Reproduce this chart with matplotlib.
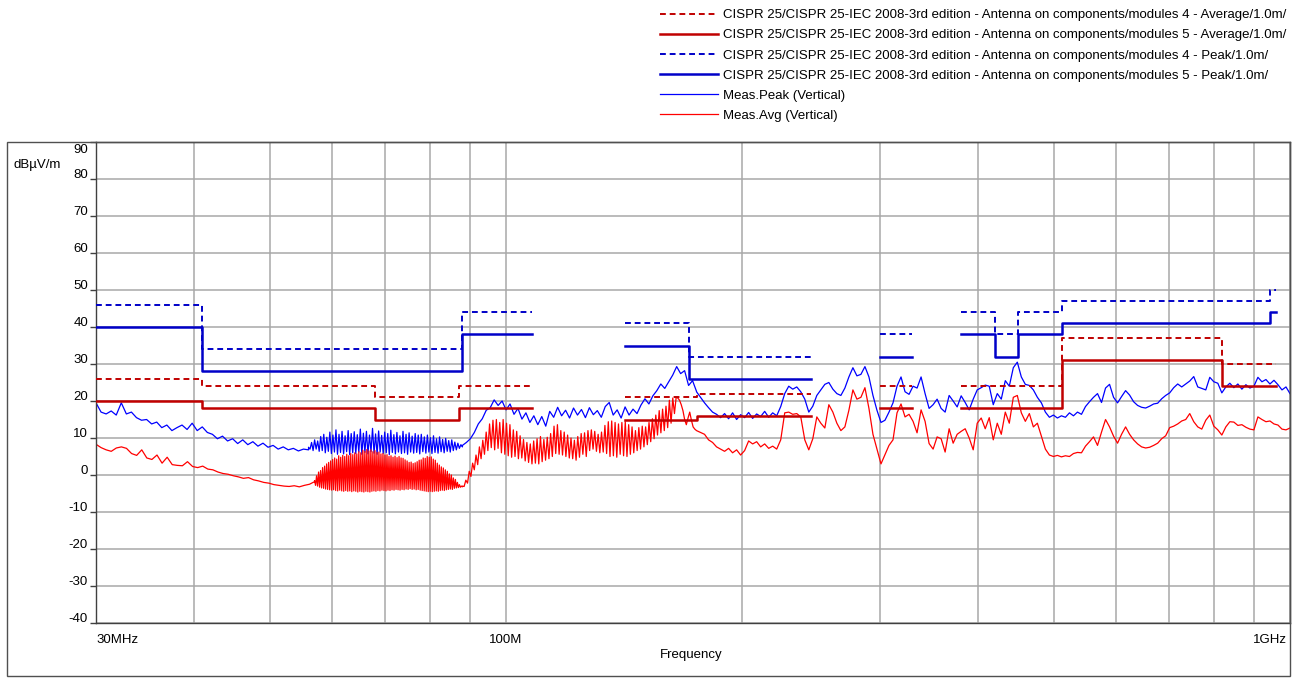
import numpy as np
import matplotlib
matplotlib.use('Agg')
import matplotlib.pyplot as plt
from matplotlib import transforms
from matplotlib.patches import Rectangle
from matplotlib.ticker import FixedLocator

plt.rcParams['font.family'] = ['Liberation Sans', 'DejaVu Sans']

# CISPR 25 limit bands: (start MHz, stop MHz, level dBuV/m)
avg4_bands = [(30, 41, 26), (41, 68, 24), (68, 87, 21), (87, 108, 24),
              (142, 175, 21), (175, 245, 22), (300, 330, 24),
              (380, 512, 24), (512, 820, 37), (820, 960, 30)]
avg5_bands = [(30, 41, 20), (41, 68, 18), (68, 87, 15), (87, 108, 18),
              (142, 175, 15), (175, 245, 16), (300, 330, 18),
              (380, 512, 18), (512, 820, 31), (820, 960, 24)]
peak4_bands = [(30, 41, 46), (41, 88, 34), (88, 108, 44), (142, 171, 41),
               (171, 245, 32), (300, 330, 38), (380, 420, 44), (420, 450, 38),
               (450, 512, 44), (512, 944, 47), (944, 960, 50)]
peak5_bands = [(30, 41, 40), (41, 88, 28), (88, 108, 38), (142, 171, 35),
               (171, 245, 26), (300, 330, 32), (380, 420, 38), (420, 450, 32),
               (450, 512, 38), (512, 944, 41), (944, 960, 44)]

# measured peak trace, swept in four sub-ranges (MHz edges)
peak_edges = [30, 56, 88, 175, 1000]
peak_seg1 = [19.5, 17, 16.5, 17.3, 16.2, 19.5, 16.5, 17, 15.5, 14.8, 15, 13.8,
             14.3, 12.8, 13.5, 12, 12.8, 13.5, 12.3, 14, 12, 13, 11.5, 11,
             9.8, 10.5, 9.2, 9.8, 8.5, 9.5, 8.2, 9, 7.8, 8.6, 7.5, 8, 7, 7.6,
             6.8, 7.2, 6.5, 7, 6.8]
peak_seg2 = [7.5, 7.0, 8.8, 6.6, 9.5, 7.0, 9.2, 6.4, 10.4, 6.6, 11.0, 6.0,
             10.2, 6.4, 11.6, 5.8, 10.8, 6.2, 12.2, 5.6, 11.0, 6.1, 11.8, 5.7,
             10.6, 6.3, 12.0, 5.5, 11.2, 6.0, 11.7, 5.8, 10.9, 6.2, 12.4, 5.6,
             11.3, 6.1, 11.8, 5.7, 10.8, 6.3, 12.6, 5.9, 11.1, 5.6, 11.9, 6.2,
             10.7, 5.8, 11.6, 6.0, 11.2, 5.5, 12.1, 6.1, 10.9, 5.7, 11.5, 6.2,
             10.6, 5.8, 11.8, 6.0, 11.0, 5.6, 11.4, 6.2, 10.5, 5.9, 11.2, 6.1,
             10.8, 5.7, 11.0, 6.3, 10.3, 5.9, 10.8, 6.2, 10.1, 5.8, 10.6, 6.1,
             9.8, 5.9, 10.3, 6.3, 9.6, 6.0, 9.9, 6.4, 9.3, 6.2, 9.5, 6.6,
             8.9, 6.8, 8.6, 7.2, 8.2, 7.6]
peak_seg3 = [8.0, 8.8, 9.8, 11.5, 13.8, 15.2, 17.5, 18.2, 20.3, 18.8, 20,
             17.6, 19.2, 16.4, 18, 15.1, 16.8, 14.2, 16, 13.6, 15.8, 13.2,
             17.2, 15.6, 18.3, 16, 17.5, 15.4, 18.1, 16.2, 17.7, 15.5, 18.2,
             16.3, 17.4, 15.6, 18.5, 19.6, 16.2, 17.6, 15.4, 18.4, 16.2, 17.8,
             16.6, 18.9, 20.6, 19.2, 21.4, 22.8, 24.6, 23.4, 25.2, 27, 29.3,
             27.4, 28.2, 24.2, 25.5, 22.6]
peak_seg4 = [22.5, 21, 19.5, 18.2, 17, 16.4, 15.5, 16.6, 15.2, 16.8, 15, 16.3,
             15.5, 16.9, 15.3, 16.5, 15.8, 17.2, 15.6, 16.8, 16, 18.5, 22, 24,
             23.2, 23.8, 22.5, 20.5, 17, 18.6, 21.5, 23, 24.5, 25, 23.2, 22,
             21.5, 23.5, 26.5, 29, 26.8, 27.2, 29.3, 26.5, 21.5, 17.5, 14.2,
             14.8, 17, 19.5, 24, 26.5, 22.5, 21.8, 24, 23.5, 26.5, 22, 18, 19,
             20.5, 18, 17, 21.5, 20, 18.4, 21.4, 19.6, 17.6, 20.5, 23, 23.6,
             24.3, 24, 19, 22, 20.5, 25.5, 24, 29, 30.5, 26.5, 24.5, 24.2, 23,
             21, 19.5, 17, 15.6, 16.2, 15.4, 16, 15.6, 16.8, 16, 17, 16.4, 18.5,
             19.8, 21, 22, 19.6, 23.5, 24.5, 21, 19.5, 21.2, 22.8, 21.6, 19.8,
             18.8, 18.3, 18.1, 18.6, 19.2, 19.4, 20.6, 21.5, 22.2, 23.6, 24.6,
             23.8, 24.6, 25.4, 26.6, 23.8, 23.4, 23, 26.4, 25.2, 24.8, 22.2,
             23.8, 24.8, 23.6, 24.6, 23.2, 24.4, 23.5, 24, 26.4, 25.2, 25.8,
             24.6, 25.6, 24.4, 23, 23.8, 22]

# measured average trace
avg_edges = [30, 57, 88, 175, 1000]
avg_seg1 = [8.3, 7.4, 6.8, 6.4, 7.3, 7.6, 7.2, 5.8, 5.3, 6.8, 4.6, 4.2, 5.4,
            3.2, 4.8, 2.8, 2.6, 2.5, 3.6, 2.3, 2.0, 2.4, 1.6, 1.4, 0.8, 0.4,
            0.2, -0.2, -0.5, -0.9, -0.7, -1.3, -1.6, -2.0, -2.2, -2.6, -2.8,
            -3.0, -3.1, -2.9, -3.2, -2.8, -2.5, -1.8]
avg_seg2 = [-1.5, -2.8, -0.2, -3.0, 0.8, -3.3, 1.2, -3.5, 2.0, -3.6, 2.4, -3.8,
            3.0, -3.9, 3.4, -4.0, 3.8, -4.1, 4.2, -4.0, 4.6, -4.2, 4.3, -4.3,
            5.2, -4.1, 4.8, -4.3, 5.3, -4.4, 5.0, -4.2, 5.6, -4.4, 5.2, -4.3,
            5.8, -4.5, 5.5, -4.3, 6.0, -4.4, 5.7, -4.6, 6.3, -4.4, 6.0, -4.5,
            6.7, -4.6, 6.4, -4.4, 6.9, -4.5, 6.5, -4.6, 6.8, -4.4, 6.3, -4.3,
            6.6, -4.4, 6.1, -4.2, 6.2, -4.3, 5.7, -4.1, 5.8, -4.2, 5.4, -4.3,
            5.5, -4.1, 5.0, -4.2, 5.2, -4.0, 4.8, -4.1, 5.1, -3.9, 4.7, -4.0,
            5.0, -4.1, 4.6, -3.9, 4.5, -4.0, 4.1, -3.8, 3.8, -3.9, 3.4, -3.7,
            3.5, -3.9, 3.1, -3.8, 3.3, -4.0, 3.6, -3.9, 4.0, -4.1, 4.1, -4.2,
            4.6, -4.3, 4.5, -4.4, 5.0, -4.5, 4.8, -4.4, 4.9, -4.5, 4.3, -4.4,
            4.0, -4.3, 3.2, -4.4, 2.7, -4.2, 2.2, -4.1, 1.9, -4.2, 1.4, -4.0,
            1.0, -3.9, 0.3, -3.8, 0.0, -3.9, -0.8, -3.6, -1.2, -3.5, -2.0, -3.4,
            -2.6, -3.3, -3.0, -3.2]
avg_seg3 = [-3.0, -3.1, -1.4, -2.2, 1.0, -0.4, 3.2, 1.4, 5.4, 2.8, 7.6, 4.4,
            9.4, 5.6, 11.6, 6.6, 13.8, 7.4, 14.8, 6.8, 15.0, 7.2, 14.2, 6.0,
            15.0, 5.6, 14.0, 5.2, 13.6, 4.8, 12.2, 5.0, 11.8, 4.4, 10.6, 4.6,
            9.6, 3.8, 8.8, 3.4, 8.4, 3.0, 9.2, 3.2, 9.8, 3.0, 10.4, 3.6,
            9.6, 4.0, 10.2, 4.4, 11.2, 5.0, 13.2, 5.8, 13.6, 5.6, 12.0, 5.4,
            11.6, 5.0, 10.8, 4.6, 10.0, 4.4, 9.4, 4.0, 10.4, 4.8, 11.2, 5.6,
            11.4, 5.0, 12.0, 6.6, 12.2, 7.0, 11.8, 6.4, 11.0, 6.0, 11.6, 6.2,
            13.4, 5.8, 14.4, 5.0, 14.6, 5.2, 14.2, 4.8, 13.8, 5.6, 14.2, 5.2,
            14.4, 5.0, 13.6, 5.6, 13.0, 6.0, 12.0, 6.6, 12.8, 7.0, 13.2, 7.6,
            13.0, 8.2, 14.2, 9.0, 15.2, 9.8, 16.2, 10.8, 17.4, 11.4, 17.8, 12.0,
            18.6, 12.8, 20.2, 14.0, 20.8, 16.6,
            21.0, 20.8, 20.2, 19.0, 17.4, 15.0, 13.6, 15.4, 17.0, 14.8, 13.0,
            12.4, 12.0]
avg_seg4 = [12, 11.5, 11, 9.5, 8.8, 7.6, 7.0, 6.4, 7.2, 6.0, 6.8, 5.4, 6.6,
            9.2, 8.4, 9.0, 7.6, 8.4, 7.2, 7.8, 7.0, 9.5, 16.8, 17.0, 16.4,
            16.6, 15.7, 9.5, 6.8, 9.8, 15.7, 14.0, 12.7, 19.0, 17.0, 14.0,
            12.0, 13.0, 17.5, 23.0, 20.5, 21.0, 23.6, 18.0, 11.0, 7.0, 3.0,
            5.5, 8.0, 9.5, 16.8, 19.2, 15.7, 16.4, 14.5, 11.4, 17.6, 14.5, 8.5,
            7.0, 10.3, 9.8, 6.2, 12.5, 8.6, 11.0, 11.8, 12.5, 10.0, 6.8, 14.0,
            15.4, 12.5, 15.5, 9.5, 14.0, 11.0, 17.0, 14.0, 21.0, 21.5, 16.8,
            14.5, 16.6, 13.0, 14.0, 10.5, 7.0, 5.4, 5.0, 5.3, 4.9, 5.2, 5.0,
            5.8, 6.1, 6.0, 7.8, 9.0, 10.3, 8.0, 11.6, 15.0, 13.0, 10.5, 8.6,
            11.0, 13.0, 11.0, 9.5, 8.4, 7.6, 7.3, 7.5, 8.0, 8.6, 9.8, 10.6,
            12.8, 13.2, 13.8, 14.6, 15.0, 16.6, 14.4, 13.0, 12.4, 14.8, 16.2,
            13.2, 12.2, 10.8, 13.0, 14.4, 14.3, 13.4, 13.6, 12.9, 12.4, 12.2,
            15.7, 15.0, 14.4, 14.6, 13.8, 13.5, 12.4, 12.2, 12.7]

legend_labels = [
    'CISPR 25/CISPR 25-IEC 2008-3rd edition - Antenna on components/modules 4 - Average/1.0m/',
    'CISPR 25/CISPR 25-IEC 2008-3rd edition - Antenna on components/modules 5 - Average/1.0m/',
    'CISPR 25/CISPR 25-IEC 2008-3rd edition - Antenna on components/modules 4 - Peak/1.0m/',
    'CISPR 25/CISPR 25-IEC 2008-3rd edition - Antenna on components/modules 5 - Peak/1.0m/',
    'Meas.Peak (Vertical)',
    'Meas.Avg (Vertical)',
]


def band_line(bands):
    # step line through the bands, broken where they don't touch
    xs, ys = [], []
    prev = None
    for start, stop, level in bands:
        if prev is not None and start != prev:
            xs.append(np.nan)
            ys.append(np.nan)
        xs += [start, stop]
        ys += [level, level]
        prev = stop
    return xs, ys


def sweep(edges, segments):
    freq, level = [], []
    for lo, hi, vals in zip(edges[:-1], edges[1:], segments):
        freq.extend(np.geomspace(lo, hi, len(vals)))
        level.extend(vals)
    return np.array(freq), np.array(level)


peak_f, peak_v = sweep(peak_edges, [peak_seg1, peak_seg2, peak_seg3, peak_seg4])
avg_f, avg_v = sweep(avg_edges, [avg_seg1, avg_seg2, avg_seg3, avg_seg4])

W, H = 1300, 679
fig = plt.figure(figsize=(W / 100, H / 100), dpi=100)
ax = fig.add_axes([96 / W, 1 - 623 / H, (1290 - 96) / W, (623 - 142) / H])

# outer frame round the plot and its labels
fig.add_artist(Rectangle((7 / W, 3 / H), (1290 - 7) / W, (676 - 142) / H,
                         transform=fig.transFigure, fill=False,
                         edgecolor='#505050', lw=1.0))

l_peak, = ax.plot(peak_f, peak_v, color='#0000ff', lw=0.9, zorder=2)
l_avg, = ax.plot(avg_f, avg_v, color='#ff0000', lw=0.9, zorder=2)

x, y = band_line(avg4_bands)
l_a4, = ax.plot(x, y, color='#c00000', lw=1.4, ls=(0, (3, 2)), zorder=3)
x, y = band_line(avg5_bands)
l_a5, = ax.plot(x, y, color='#c00000', lw=1.8, zorder=3)
x, y = band_line(peak4_bands)
l_p4, = ax.plot(x, y, color='#0000c8', lw=1.4, ls=(0, (3, 2)), zorder=3)
x, y = band_line(peak5_bands)
l_p5, = ax.plot(x, y, color='#0000c8', lw=1.8, zorder=3)

ax.set_xscale('log')
ax.set_xlim(30, 1000)
ax.set_ylim(-40, 90)

grid_f = list(range(30, 100, 10)) + list(range(100, 1001, 100))
ax.xaxis.set_major_locator(FixedLocator(grid_f))
ax.xaxis.set_minor_locator(FixedLocator([30]))
ax.set_xticklabels([])
ax.xaxis.set_minor_formatter(plt.NullFormatter())
ax.tick_params(axis='x', which='major', length=0)
ax.tick_params(axis='x', which='minor', length=5, width=1, color='#404040')
ax.set_yticks(range(-40, 91, 10))
ax.set_yticklabels([])
ax.tick_params(axis='y', length=4, width=1, color='#404040')
ax.grid(True, color='#a8a8a8', lw=1.1)
for s in ax.spines.values():
    s.set_color('#404040')
    s.set_linewidth(1.0)

fs = 9.5
# y labels sit just above their grid line, the top one is pulled inside
for v in range(-40, 91, 10):
    dy = -8 if v == 90 else 4
    tr = transforms.offset_copy(ax.get_yaxis_transform(), fig=fig,
                                x=-8, y=dy, units='dots')
    ax.text(0, v, str(v), transform=tr, ha='right', va='center', fontsize=fs)

xtr = transforms.offset_copy(ax.get_xaxis_transform(), fig=fig,
                             x=0, y=-17, units='dots')
ax.text(30, 0, '30MHz', transform=xtr, ha='left', va='center', fontsize=fs)
ax.text(100, 0, '100M', transform=xtr, ha='center', va='center', fontsize=fs)
xtr2 = transforms.offset_copy(ax.get_xaxis_transform(), fig=fig,
                              x=-3, y=-17, units='dots')
ax.text(1000, 0, '1GHz', transform=xtr2, ha='right', va='center', fontsize=fs)

fig.text(691 / W, 1 - 655 / H, 'Frequency', ha='center', va='center', fontsize=fs)
fig.text(13 / W, 1 - 165 / H, 'dBµV/m', ha='left', va='center', fontsize=fs)

fig.legend([l_a4, l_a5, l_p4, l_p5, l_peak, l_avg], legend_labels,
           loc='upper left', bbox_to_anchor=(660 / W, 1 - 9 / H),
           bbox_transform=fig.transFigure, frameon=False, fontsize=fs,
           handlelength=4.4, handletextpad=0.38, labelspacing=0.6,
           borderpad=0, borderaxespad=0)

fig.savefig('out.png', dpi=100)
